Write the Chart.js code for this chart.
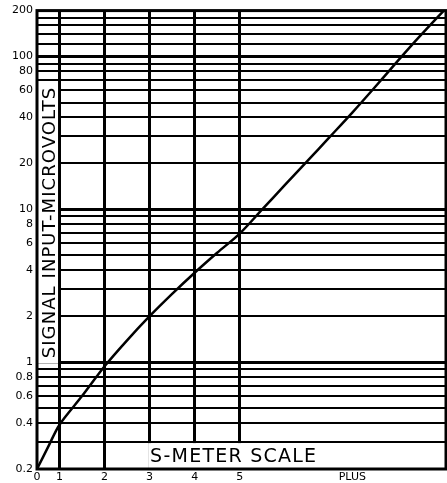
<!DOCTYPE html>
<html>
<head>
<meta charset="utf-8">
<script src="https://cdn.jsdelivr.net/npm/chart.js@4/dist/chart.umd.min.js"></script>
<style>
  html,body{margin:0;padding:0;background:#fff;}
  canvas{display:block;}
</style>
</head>
<body>
<canvas id="c" width="447" height="483"></canvas>
<script>
// ---- data ----
const sMeterReadings = [0, 0.5, 1, 1.5, 2, 2.5, 3, 3.5, 4, 4.5, 5, 5.5, 6, 6.5, 7, 7.5, 8, 8.5, 9, 9.53];
const signalMicrovolts = [0.2, 0.28, 0.39, 0.6, 0.94, 1.39, 2.0, 2.8, 3.85, 5.2, 6.95, 10.0, 14.4, 20.7, 29.8, 43, 63, 93, 136, 200];

const xTickValues = [0, 1, 2, 3, 4, 5];
const xTickLabels = ['0', '1', '2', '3', '4', '5'];
const xGridValues = [1, 2, 3, 4, 5];
const plusLabel = 'PLUS';
const plusPosition = 7.5;
const xRange = [0, 9.58];

const yGridValues = [0.3, 0.4, 0.5, 0.6, 0.7, 0.8, 0.9, 1, 2, 3, 4, 5, 6, 7, 8, 9, 10,
  20, 30, 40, 50, 60, 70, 80, 90, 100, 120, 140, 160, 180];
const yTickLabels = [0.2, 0.4, 0.6, 0.8, 1, 2, 4, 6, 8, 10, 20, 40, 60, 80, 100, 200];
const yMajorLines = [1, 10, 100];
const yRange = [0.2, 200];

const xTitle = 'S-METER SCALE';
const yTitle = 'SIGNAL INPUT-MICROVOLTS';
// title boxes, in data units
const yTitleBox = { x: [0, 1], y: [1, 70] };
const xTitleBox = { x: [3, 9.58], y: [0.2, 0.3] };

// ---- S-meter scale: first unit (0..1) is compressed to half width ----
const warp = v => (v < 1 ? 0.5 + 0.5 * v : v);
const unwarp = w => (w < 1 ? (w - 0.5) * 2 : w);
class SMeterScale extends Chart.LinearScale {
  static id = 'smeter';
  getPixelForValue(v) {
    const a = warp(this.min), b = warp(this.max);
    return this.getPixelForDecimal((warp(v) - a) / (b - a));
  }
  getValueForPixel(p) {
    const a = warp(this.min), b = warp(this.max);
    return unwarp(a + this.getDecimalForPixel(p) * (b - a));
  }
}
Chart.register(SMeterScale);

const FONT = 'DejaVu Sans';

const overlay = {
  id: 'overlay',
  beforeDatasetsDraw(chart) {
    const { ctx, chartArea: a, scales: { x, y } } = chart;
    ctx.save();
    // y title box
    let x0 = a.left, x1 = x.getPixelForValue(yTitleBox.x[1]) - 1.5;
    let y0 = y.getPixelForValue(yTitleBox.y[1]) + 1, y1 = y.getPixelForValue(yTitleBox.y[0]) + 1.5;
    ctx.fillStyle = '#fff';
    ctx.fillRect(x0, y0, x1 - x0, y1 - y0);
    ctx.fillStyle = '#000';
    ctx.font = '18px "' + FONT + '"';
    ctx.letterSpacing = '0px';
    let w = ctx.measureText(yTitle).width;
    const target1 = (y1 - y0) - 12;
    ctx.letterSpacing = ((target1 - w) / (yTitle.length - 1)).toFixed(2) + 'px';
    ctx.translate((x0 + x1) / 2 + 0.5, (y0 + y1) / 2);
    ctx.rotate(-Math.PI / 2);
    ctx.textAlign = 'center';
    ctx.textBaseline = 'alphabetic';
    ctx.fillText(yTitle, 0, 6.5);
    ctx.restore();

    ctx.save();
    // x title box
    x0 = x.getPixelForValue(xTitleBox.x[0]) - 1.5; x1 = a.right;
    y0 = y.getPixelForValue(xTitleBox.y[1]) + 1; y1 = a.bottom;
    ctx.fillStyle = '#fff';
    ctx.fillRect(x0, y0, x1 - x0, y1 - y0);
    ctx.fillStyle = '#000';
    ctx.font = '19px "' + FONT + '"';
    ctx.letterSpacing = '0px';
    w = ctx.measureText(xTitle).width;
    ctx.letterSpacing = ((166 - w) / (xTitle.length - 1)).toFixed(2) + 'px';
    ctx.textAlign = 'left';
    ctx.textBaseline = 'alphabetic';
    ctx.fillText(xTitle, x0 + 2, y1 - 7);
    ctx.restore();

    // frame
    ctx.save();
    ctx.strokeStyle = '#000';
    ctx.lineWidth = 3;
    ctx.strokeRect(a.left, a.top, a.right - a.left, a.bottom - a.top);
    ctx.restore();
  }
};

new Chart(document.getElementById('c'), {
  type: 'line',
  data: {
    datasets: [{
      data: sMeterReadings.map((s, i) => ({ x: s, y: signalMicrovolts[i] })),
      borderColor: '#000',
      borderWidth: 2.5,
      pointRadius: 0,
      tension: 0.3,
      fill: false
    }]
  },
  options: {
    responsive: false,
    devicePixelRatio: 1,
    animation: false,
    events: [],
    layout: { padding: { top: 9, right: 1, left: 0, bottom: 0 } },
    plugins: { legend: { display: false }, tooltip: { enabled: false } },
    scales: {
      x: {
        type: 'smeter',
        min: xRange[0],
        max: xRange[1],
        border: { display: false },
        afterBuildTicks: s => {
          s.ticks = xTickValues.map(v => ({ value: v })).concat([{ value: plusPosition }]);
        },
        afterFit: s => { s.height = 14; },
        grid: {
          drawTicks: false,
          color: c => (c.tick && xGridValues.includes(c.tick.value) ? '#000' : 'rgba(0,0,0,0)'),
          lineWidth: 3
        },
        ticks: {
          autoSkip: false,
          maxRotation: 0,
          padding: 2,
          color: '#000',
          font: { family: FONT, size: 11 },
          callback: v => {
            const i = xTickValues.indexOf(v);
            if (i >= 0) return xTickLabels[i];
            if (v === plusPosition) return plusLabel;
            return '';
          }
        }
      },
      y: {
        type: 'logarithmic',
        min: yRange[0],
        max: yRange[1],
        border: { display: false },
        afterBuildTicks: s => {
          const all = [yRange[0]].concat(yGridValues, [yRange[1]]);
          s.ticks = all.map(v => ({ value: v }));
        },
        afterFit: s => { s.width = 37; },
        grid: {
          drawTicks: false,
          color: c => {
            if (!c.tick) return '#000';
            const v = c.tick.value;
            return (v === yRange[0] || v === yRange[1]) ? 'rgba(0,0,0,0)' : '#000';
          },
          lineWidth: c => (c.tick && yMajorLines.includes(c.tick.value) ? 3 : 2)
        },
        ticks: {
          autoSkip: false,
          padding: 4,
          color: '#000',
          font: { family: FONT, size: 11 },
          callback: v => (yTickLabels.includes(v) ? String(v) : '')
        }
      }
    }
  },
  plugins: [overlay]
});
</script>
</body>
</html>
